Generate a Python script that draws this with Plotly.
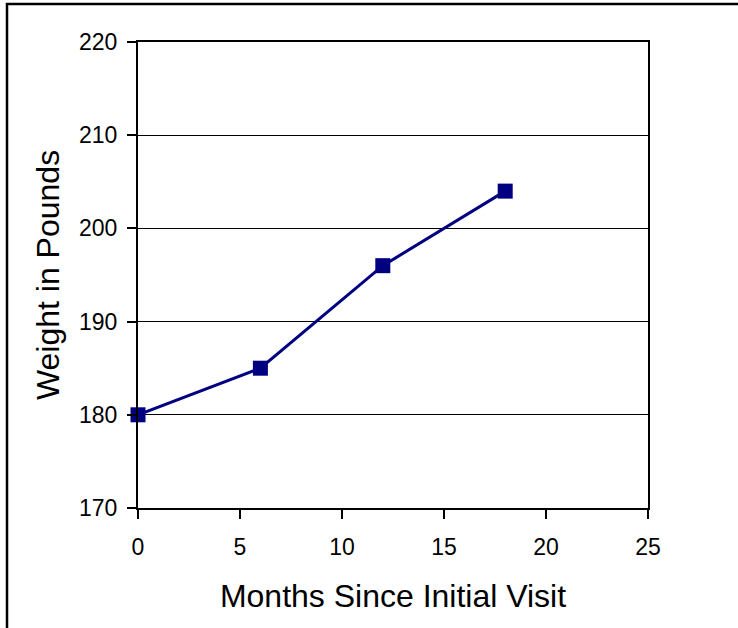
import plotly.graph_objects as go

months = [0, 6, 12, 18]
weights = [180, 185, 196, 204]
x_ticks = [0, 5, 10, 15, 20, 25]
y_ticks = [170, 180, 190, 200, 210, 220]

W, H = 738, 628
L, R, T, B = 138, 90, 42, 120

fig = go.Figure()
fig.add_trace(go.Scatter(
    x=months, y=weights, mode="lines+markers",
    line=dict(color="#000080", width=3),
    marker=dict(symbol="square", size=15, color="#000080"),
    cliponaxis=False,
))

font = "Liberation Sans, Arial, sans-serif"
fig.update_layout(
    width=W, height=H,
    margin=dict(l=L, r=R, t=T, b=B),
    paper_bgcolor="white", plot_bgcolor="white",
    showlegend=False,
    font=dict(family=font, color="black"),
    xaxis=dict(
        range=[0, 25], tickvals=x_ticks, showgrid=False, zeroline=False,
        showline=True, linecolor="black", linewidth=2, mirror=True,
        ticks="outside", ticklen=9, tickwidth=1.5, tickcolor="black",
        ticklabelstandoff=8,
        tickfont=dict(size=23), title=dict(text="Months Since Initial Visit", font=dict(size=32), standoff=26),
    ),
    yaxis=dict(
        range=[170, 220], tickvals=y_ticks, showgrid=True, gridcolor="black", gridwidth=1.2,
        zeroline=False,
        showline=True, linecolor="black", linewidth=2, mirror=True,
        ticks="outside", ticklen=9, tickwidth=1.5, tickcolor="black",
        ticklabelstandoff=5,
        tickfont=dict(size=23), title=dict(text="Weight in Pounds", font=dict(size=32), standoff=10),
    ),
)

pw, ph = W - L - R, H - T - B
bx = (7 - L) / pw
by = (H - B - 4) / ph
fig.add_shape(type="path", xref="paper", yref="paper",
              path=f"M {bx} -2 L {bx} {by} L 3 {by}",
              line=dict(color="black", width=2.5), layer="above")

fig.write_html("out.html", config={"displayModeBar": False},
               post_script="document.body.style.margin='0px';")
